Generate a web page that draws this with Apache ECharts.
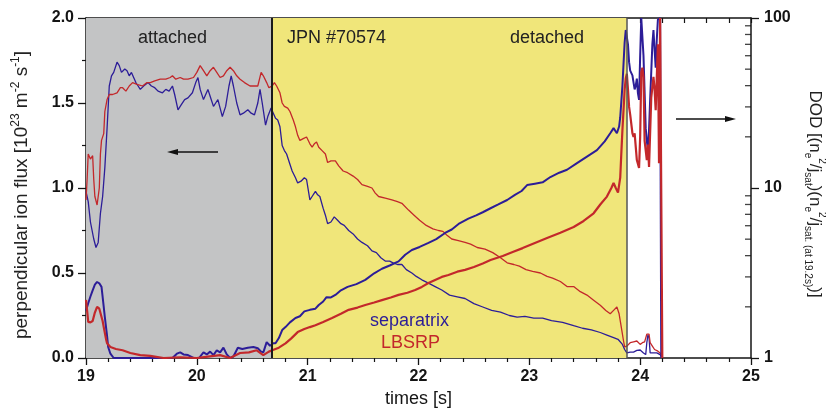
<!DOCTYPE html>
<html>
<head>
<meta charset="utf-8">
<script src="https://cdn.jsdelivr.net/npm/echarts@6/dist/echarts.min.js"></script>
<style>
  html, body { margin: 0; padding: 0; background: #fff; }
  #main { width: 826px; height: 411px; }
</style>
</head>
<body>
<div id="main"></div>
<script>
// perpendicular ion flux [1e23 m^-2 s^-1], left axis
const sepFlux = [[19.00,0.98],[19.02,0.92],[19.04,0.80],[19.07,0.70],[19.09,0.65],[19.11,0.68],[19.13,0.85],[19.15,0.95],[19.17,1.12],[19.19,1.35],[19.21,1.60],[19.23,1.66],[19.25,1.68],[19.28,1.74],[19.30,1.72],[19.32,1.68],[19.35,1.70],[19.37,1.69],[19.39,1.66],[19.41,1.68],[19.43,1.65],[19.45,1.62],[19.47,1.60],[19.49,1.58],[19.52,1.60],[19.56,1.62],[19.59,1.60],[19.62,1.59],[19.65,1.57],[19.69,1.56],[19.72,1.58],[19.75,1.57],[19.78,1.60],[19.80,1.55],[19.83,1.46],[19.86,1.49],[19.89,1.52],[19.92,1.53],[19.96,1.56],[19.99,1.62],[20.01,1.65],[20.03,1.58],[20.06,1.52],[20.08,1.55],[20.10,1.58],[20.12,1.54],[20.15,1.48],[20.17,1.50],[20.19,1.52],[20.21,1.47],[20.23,1.42],[20.26,1.48],[20.29,1.60],[20.31,1.66],[20.33,1.60],[20.36,1.50],[20.39,1.43],[20.42,1.44],[20.46,1.46],[20.49,1.44],[20.52,1.43],[20.55,1.50],[20.57,1.58],[20.59,1.50],[20.62,1.37],[20.64,1.42],[20.67,1.47],[20.69,1.44],[20.71,1.41],[20.73,1.40],[20.75,1.36],[20.77,1.25],[20.79,1.22],[20.81,1.20],[20.84,1.14],[20.86,1.10],[20.89,1.06],[20.91,1.03],[20.94,1.04],[20.97,1.06],[20.99,1.05],[21.02,0.93],[21.04,0.95],[21.07,0.98],[21.09,0.96],[21.11,0.95],[21.14,0.88],[21.16,0.84],[21.18,0.79],[21.21,0.80],[21.24,0.83],[21.27,0.81],[21.30,0.79],[21.33,0.78],[21.37,0.75],[21.41,0.73],[21.45,0.70],[21.49,0.68],[21.54,0.66],[21.58,0.63],[21.62,0.62],[21.66,0.59],[21.70,0.57],[21.74,0.57],[21.77,0.56],[21.81,0.55],[21.85,0.55],[21.89,0.52],[21.94,0.50],[21.98,0.48],[22.03,0.46],[22.09,0.44],[22.15,0.42],[22.21,0.40],[22.28,0.37],[22.35,0.36],[22.42,0.35],[22.50,0.32],[22.58,0.30],[22.66,0.28],[22.74,0.27],[22.82,0.25],[22.89,0.24],[22.96,0.245],[23.04,0.235],[23.12,0.235],[23.20,0.22],[23.30,0.21],[23.40,0.19],[23.48,0.175],[23.56,0.165],[23.64,0.15],[23.70,0.135],[23.76,0.12],[23.80,0.11],[23.84,0.08],[23.86,0.05],[23.88,0.03],[23.91,0.035],[23.94,0.035],[23.97,0.045],[24.00,0.047],[24.03,0.03],[24.05,0.02],[24.06,0.09],[24.07,0.135],[24.08,0.12],[24.09,0.03],[24.12,0.03],[24.15,0.03],[24.18,0.02],[24.20,0.0]];

const lbsrpFlux = [[19.00,0.93],[19.01,1.05],[19.02,1.20],[19.04,1.17],[19.06,1.19],[19.07,1.05],[19.08,0.95],[19.10,0.90],[19.12,1.00],[19.13,1.20],[19.14,1.28],[19.16,1.32],[19.17,1.45],[19.19,1.52],[19.21,1.55],[19.24,1.55],[19.28,1.56],[19.31,1.59],[19.33,1.59],[19.36,1.57],[19.39,1.60],[19.42,1.62],[19.46,1.61],[19.51,1.60],[19.55,1.62],[19.58,1.62],[19.62,1.63],[19.67,1.64],[19.72,1.64],[19.76,1.65],[19.78,1.66],[19.81,1.64],[19.85,1.65],[19.88,1.64],[19.92,1.64],[19.97,1.65],[20.00,1.68],[20.03,1.72],[20.06,1.69],[20.09,1.66],[20.12,1.69],[20.15,1.71],[20.18,1.68],[20.21,1.65],[20.24,1.66],[20.27,1.69],[20.30,1.71],[20.33,1.69],[20.36,1.66],[20.39,1.64],[20.43,1.62],[20.48,1.60],[20.52,1.60],[20.55,1.60],[20.58,1.68],[20.60,1.66],[20.63,1.62],[20.65,1.59],[20.68,1.60],[20.70,1.62],[20.72,1.60],[20.75,1.56],[20.77,1.50],[20.79,1.48],[20.82,1.47],[20.84,1.45],[20.87,1.40],[20.89,1.36],[20.91,1.31],[20.93,1.28],[20.96,1.29],[20.99,1.30],[21.02,1.26],[21.04,1.24],[21.06,1.26],[21.08,1.27],[21.10,1.24],[21.13,1.22],[21.16,1.20],[21.18,1.15],[21.21,1.16],[21.25,1.16],[21.28,1.13],[21.32,1.10],[21.36,1.09],[21.41,1.07],[21.45,1.05],[21.49,1.02],[21.54,1.01],[21.58,1.00],[21.61,0.97],[21.64,0.95],[21.70,0.94],[21.76,0.93],[21.81,0.92],[21.85,0.91],[21.91,0.87],[21.96,0.84],[22.01,0.81],[22.07,0.78],[22.13,0.76],[22.18,0.75],[22.22,0.745],[22.26,0.72],[22.30,0.70],[22.36,0.69],[22.42,0.68],[22.47,0.67],[22.53,0.65],[22.60,0.64],[22.67,0.62],[22.74,0.59],[22.80,0.56],[22.86,0.55],[22.91,0.54],[22.97,0.52],[23.03,0.51],[23.10,0.50],[23.16,0.48],[23.21,0.47],[23.28,0.45],[23.34,0.42],[23.40,0.42],[23.46,0.39],[23.52,0.37],[23.58,0.34],[23.64,0.31],[23.69,0.28],[23.73,0.26],[23.76,0.28],[23.79,0.30],[23.81,0.26],[23.83,0.18],[23.85,0.10],[23.86,0.065],[23.88,0.07],[23.91,0.09],[23.94,0.095],[23.97,0.10],[24.00,0.08],[24.02,0.09],[24.04,0.095],[24.06,0.14],[24.07,0.15],[24.08,0.14],[24.09,0.09],[24.11,0.07],[24.13,0.05],[24.16,0.04],[24.18,0.03],[24.19,0.02]];

// DOD (degree of detachment), right log axis
const sepDod = [[19.00,1.9],[19.02,2.1],[19.04,2.3],[19.06,2.5],[19.08,2.7],[19.10,2.8],[19.12,2.75],[19.14,2.62],[19.16,2.0],[19.17,1.74],[19.19,1.35],[19.20,1.16],[19.22,1.06],[19.25,1.0],[19.40,1.0],[19.60,1.0],[19.78,1.0],[19.82,1.06],[19.85,1.08],[19.88,1.05],[19.92,1.04],[19.97,1.0],[20.02,1.0],[20.06,1.08],[20.09,1.05],[20.12,1.09],[20.15,1.04],[20.18,1.11],[20.21,1.08],[20.24,1.15],[20.27,1.05],[20.30,1.0],[20.33,1.02],[20.37,1.15],[20.41,1.13],[20.46,1.15],[20.51,1.16],[20.55,1.14],[20.58,1.09],[20.60,1.08],[20.63,1.24],[20.66,1.18],[20.69,1.22],[20.71,1.22],[20.74,1.31],[20.77,1.46],[20.80,1.52],[20.84,1.62],[20.89,1.72],[20.93,1.76],[20.97,1.88],[21.02,1.92],[21.07,1.95],[21.10,2.05],[21.14,2.15],[21.17,2.28],[21.21,2.27],[21.25,2.35],[21.30,2.5],[21.36,2.62],[21.44,2.72],[21.52,2.88],[21.60,3.15],[21.67,3.35],[21.74,3.5],[21.82,3.7],[21.88,4.05],[21.94,4.32],[22.01,4.5],[22.09,4.75],[22.16,5.0],[22.24,5.44],[22.30,5.7],[22.37,6.2],[22.45,6.6],[22.52,6.9],[22.58,7.2],[22.65,7.6],[22.72,8.0],[22.80,8.5],[22.87,9.1],[22.93,9.6],[22.98,10.4],[23.05,10.6],[23.12,10.8],[23.19,11.6],[23.27,12.3],[23.34,12.8],[23.43,14.0],[23.52,15.3],[23.61,16.7],[23.68,18.8],[23.73,21],[23.76,22.5],[23.79,21],[23.81,23],[23.82,26],[23.84,40],[23.85,54],[23.86,72],[23.87,85],[23.88,85],[23.89,70],[23.90,55],[23.91,49],[23.93,46],[23.94,45],[23.95,38],[23.96,40],[23.97,44],[23.98,36],[23.99,33],[24.00,60],[24.01,100],[24.02,100],[24.03,60],[24.05,22.5],[24.06,19],[24.07,16.7],[24.08,22],[24.09,33],[24.11,70],[24.12,85],[24.13,65],[24.14,51],[24.15,75],[24.16,98],[24.17,100],[24.18,100],[24.19,1]];

const lbsrpDod = [[19.00,2.2],[19.01,1.9],[19.02,1.63],[19.04,1.62],[19.06,1.65],[19.08,1.85],[19.10,2.0],[19.12,1.95],[19.13,1.9],[19.15,1.65],[19.16,1.52],[19.18,1.3],[19.19,1.22],[19.22,1.16],[19.27,1.13],[19.33,1.11],[19.40,1.07],[19.49,1.04],[19.58,1.03],[19.70,1.0],[19.85,1.01],[20.00,1.0],[20.10,1.02],[20.21,1.04],[20.30,1.0],[20.39,1.07],[20.47,1.08],[20.54,1.11],[20.60,1.04],[20.65,1.09],[20.68,1.11],[20.74,1.15],[20.80,1.22],[20.85,1.3],[20.91,1.42],[20.97,1.48],[21.02,1.52],[21.07,1.56],[21.14,1.63],[21.22,1.72],[21.30,1.82],[21.37,1.92],[21.45,1.98],[21.52,2.05],[21.60,2.12],[21.67,2.19],[21.75,2.27],[21.82,2.35],[21.90,2.42],[21.97,2.51],[22.03,2.62],[22.09,2.76],[22.15,2.88],[22.21,3.0],[22.27,3.08],[22.35,3.22],[22.42,3.3],[22.50,3.43],[22.58,3.6],[22.65,3.77],[22.76,3.98],[22.85,4.2],[22.94,4.43],[23.05,4.75],[23.16,5.08],[23.28,5.45],[23.40,5.9],[23.49,6.4],[23.58,7.1],[23.64,8.0],[23.70,8.9],[23.74,10.0],[23.76,10.7],[23.78,10.0],[23.80,9.4],[23.82,11.5],[23.83,16],[23.84,22],[23.86,38],[23.87,44],[23.88,47],[23.89,38],[23.90,30],[23.91,27],[23.93,21],[23.94,20],[23.95,21],[23.97,14.6],[23.99,13.1],[24.00,20],[24.01,48],[24.02,51],[24.03,45],[24.04,19],[24.06,14.6],[24.07,18],[24.08,13.3],[24.10,34],[24.12,45],[24.13,38],[24.14,28.7],[24.16,70],[24.17,14],[24.18,100],[24.195,100],[24.20,1]];

// phases: [start, end, colour]
const phases = [[19, 20.68, '#c3c4c5'], [20.68, 23.88, '#f0e67a']];
const phaseEdges = [20.68, 23.88];
const dodMinor = [2, 3, 4, 5, 6, 7, 8, 9, 20, 30, 40, 50, 60, 70, 80, 90];

const blue = '#2c1d98';
const red = '#c3282b';
const ink = '#141414';
const font = '"Liberation Sans", Arial, sans-serif';

const chart = echarts.init(document.getElementById('main'));

const tickLab = { fontWeight: 'bold', fontSize: 16, color: ink, fontFamily: font };
const axLine = { show: true, lineStyle: { color: ink, width: 1.5 } };
const note = (text, left, top, fill) => ({
  type: 'text', left, top, z: 100,
  style: { text, fontSize: 18, fill: fill || '#222', fontFamily: font }
});

chart.setOption({
  animation: false,
  textStyle: { fontFamily: font },
  grid: { left: 86, right: 75, top: 18, bottom: 53, outerBoundsMode: 'none', containLabel: false },
  xAxis: [{
    type: 'value', min: 19, max: 25, interval: 1, position: 'bottom',
    axisLine: axLine,
    axisTick: { length: 7, lineStyle: { color: ink, width: 1.3 } },
    minorTick: { show: true, splitNumber: 5, length: 4, lineStyle: { color: ink, width: 1.2 } },
    splitLine: { show: false },
    axisLabel: Object.assign({ margin: 11 }, tickLab),
    name: 'times [s]', nameLocation: 'middle', nameGap: 32,
    nameTextStyle: { fontSize: 18, color: ink, fontFamily: font }
  }, {
    type: 'value', min: 19, max: 25, interval: 0.2, position: 'top',
    axisLine: axLine,
    axisTick: { inside: true, length: 5, lineStyle: { color: ink, width: 1.2 } },
    axisLabel: { show: false },
    splitLine: { show: false }
  }],
  yAxis: [{
    type: 'value', min: 0, max: 2, interval: 0.5,
    axisLine: axLine,
    axisTick: { length: 8, lineStyle: { color: ink, width: 1.3 } },
    minorTick: { show: true, splitNumber: 2, length: 4, lineStyle: { color: ink, width: 1.2 } },
    splitLine: { show: false },
    axisLabel: Object.assign({ margin: 12, formatter: v => v.toFixed(1) }, tickLab),
    name: '{a|perpendicular ion flux [10}{sup|23}{a| m}{sup|-2}{a| s}{sup|-1}{a|]}',
    nameLocation: 'middle', nameRotate: 90, nameGap: 52,
    nameTextStyle: {
      color: '#222', fontFamily: font, padding: [0, 14, 0, 0],
      rich: {
        a: { fontSize: 19, lineHeight: 24, color: '#222', fontFamily: font },
        sup: { fontSize: 12, lineHeight: 13, verticalAlign: 'top', color: '#222', fontFamily: font }
      }
    }
  }, {
    type: 'log', logBase: 10, min: 1, max: 100, position: 'right',
    axisLine: axLine,
    axisTick: { length: 8, lineStyle: { color: ink, width: 1.3 } },
    minorTick: { show: false },
    splitLine: { show: false },
    axisLabel: Object.assign({ margin: 13 }, tickLab),
    name: '{a|DOD [(n}{sub|e}{sup|2}{a|/j}{sub|sat}{a|)(n}{sub|e}{sup|2}{a|/j}{sub|sat. (at 19.2s)}{a|)]}',
    nameLocation: 'middle', nameRotate: -90, nameGap: 52,
    nameTextStyle: {
      color: '#222', fontFamily: font, padding: [0, 0, 0, 12],
      rich: {
        a: { fontSize: 17, lineHeight: 24, color: '#222', fontFamily: font },
        sup: { fontSize: 10, lineHeight: 12, verticalAlign: 'top', color: '#222', fontFamily: font },
        sub: { fontSize: 10, lineHeight: 12, verticalAlign: 'bottom', color: '#222', fontFamily: font }
      }
    }
  }],
  series: [{
    name: 'separatrix flux', type: 'line', xAxisIndex: 0, yAxisIndex: 0,
    data: sepFlux, showSymbol: false, lineStyle: { color: blue, width: 1.3 }, z: 3,
    markArea: {
      silent: true,
      data: phases.map(p => [{ xAxis: p[0], itemStyle: { color: p[2], opacity: 1 } }, { xAxis: p[1] }])
    },
    markLine: {
      silent: true, symbol: 'none', label: { show: false },
      data: phaseEdges.map((x, i) => ({
        xAxis: x,
        lineStyle: { type: 'solid', color: i === 0 ? '#1a1a1a' : '#555', width: i === 0 ? 2 : 1.5 }
      }))
    }
  }, {
    name: 'LBSRP flux', type: 'line', xAxisIndex: 0, yAxisIndex: 0,
    data: lbsrpFlux, showSymbol: false, lineStyle: { color: red, width: 1.3 }, z: 3
  }, {
    name: 'separatrix DOD', type: 'line', xAxisIndex: 0, yAxisIndex: 1,
    data: sepDod, showSymbol: false, lineStyle: { color: blue, width: 2 }, z: 4
  }, {
    name: 'LBSRP DOD', type: 'line', xAxisIndex: 0, yAxisIndex: 1,
    data: lbsrpDod, showSymbol: false, lineStyle: { color: red, width: 2.2 }, z: 4
  }, {
    // minor ticks of the log axis, drawn inside the frame
    type: 'scatter', xAxisIndex: 0, yAxisIndex: 1, silent: true, clip: false,
    data: dodMinor.map(v => [25, v]),
    symbol: 'rect', symbolSize: [6, 1.3], symbolOffset: [-3, 0],
    itemStyle: { color: ink }, z: 6
  }],
  graphic: [
    note('attached', 138, 29),
    note('JPN #70574', 287, 29),
    note('detached', 510, 29),
    note('separatrix', 370, 312, blue),
    note('LBSRP', 381, 334, red),
    { type: 'line', z: 100, shape: { x1: 176, y1: 152, x2: 218, y2: 152 }, style: { stroke: '#111', lineWidth: 1.5 } },
    { type: 'polygon', z: 100, shape: { points: [[167, 152], [178, 149], [178, 155]] }, style: { fill: '#111' } },
    { type: 'line', z: 100, shape: { x1: 676, y1: 119, x2: 727, y2: 119 }, style: { stroke: '#111', lineWidth: 1.5 } },
    { type: 'polygon', z: 100, shape: { points: [[736, 119], [725, 116], [725, 122]] }, style: { fill: '#111' } }
  ]
});
</script>
</body>
</html>
